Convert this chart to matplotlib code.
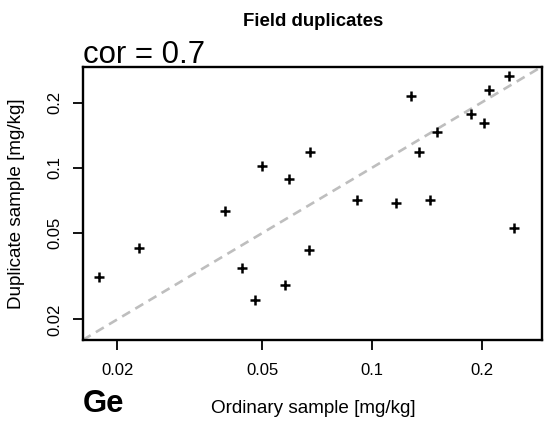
import matplotlib
matplotlib.use("Agg")
import matplotlib.pyplot as plt
from matplotlib.ticker import FixedLocator, FixedFormatter, NullLocator

plt.rcParams['font.family'] = ['Liberation Sans', 'DejaVu Sans']

ordinary = [0.01785, 0.02289, 0.03963, 0.04411, 0.04769, 0.04993, 0.05786,
            0.05918, 0.06757, 0.06714, 0.09131, 0.1162, 0.1278, 0.1347,
            0.1447, 0.1510, 0.1874, 0.2034, 0.2100, 0.2381, 0.2462]
duplicate = [0.03134, 0.04281, 0.0632, 0.03461, 0.02463, 0.1020, 0.02880,
             0.08914, 0.1188, 0.04165, 0.07088, 0.06864, 0.2132, 0.1184,
             0.07133, 0.1469, 0.1768, 0.1612, 0.2296, 0.2648, 0.05261]
tick_vals = [0.02, 0.05, 0.1, 0.2]
tick_labels = ["0.02", "0.05", "0.1", "0.2"]
lims = [0.01608, 0.2925]

W, H = 544, 423
fig = plt.figure(figsize=(W/100, H/100), dpi=100)
ax = fig.add_axes([82.7/W, 1-340/H, (541.7-82.7)/W, (340-66.7)/H])
ax.set_xscale('log')
ax.set_yscale('log')
ax.set_xlim(lims)
ax.set_ylim(lims)

ax.plot(lims, lims, color='#BEBEBE', lw=1.9, dashes=(3.5, 2.3), zorder=1)
ax.plot(ordinary, duplicate, linestyle='none', marker='+', color='black',
        markersize=7, mew=1.8, zorder=2)

for a in (ax.xaxis, ax.yaxis):
    a.set_major_locator(FixedLocator(tick_vals))
    a.set_major_formatter(FixedFormatter(tick_labels))
    a.set_minor_locator(NullLocator())
ax.tick_params(axis='both', length=7.2, width=1.3, labelsize=12, color='black')
ax.tick_params(axis='x', pad=9.5)
ax.tick_params(axis='y', pad=7.5)
for lab in ax.get_yticklabels():
    lab.set_rotation(90)
    lab.set_va('center')
for s in ax.spines.values():
    s.set_linewidth(1.7)

fig.text(313/W, 1-413/H, "Ordinary sample [mg/kg]", fontsize=13.6,
         ha='center', va='baseline')
fig.text(21/W, 1-203.3/H, "Duplicate sample [mg/kg]", fontsize=13.6,
         ha='center', va='baseline', rotation=90, rotation_mode='anchor')

fig.text(313/W, 1-25.5/H, "Field duplicates", fontsize=13.4, fontweight='bold',
         ha='center', va='baseline')
fig.text(83/W, 1-63/H, "cor = 0.7", fontsize=22.4, ha='left', va='baseline')
fig.text(83/W, 1-412/H, "Ge", fontsize=22.4, fontweight='bold', ha='left', va='baseline')

fig.savefig("out.png", dpi=100)
